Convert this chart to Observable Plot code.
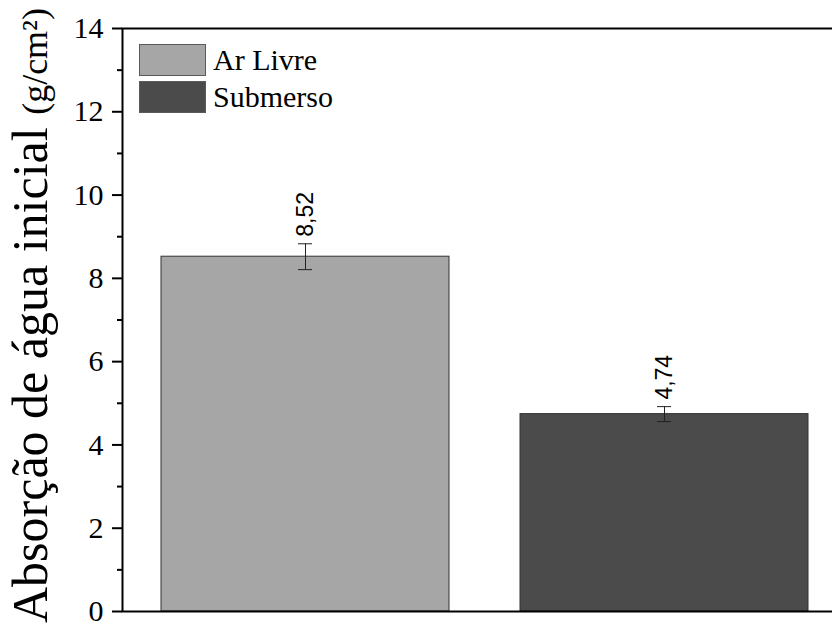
<!DOCTYPE html>
<html>
<head>
<meta charset="utf-8">
<script src="https://cdn.jsdelivr.net/npm/d3@7"></script>
<script src="https://cdn.jsdelivr.net/npm/@observablehq/plot@0.6"></script>
<style>
  html, body { margin: 0; padding: 0; background: #fff; }
  #wrap { position: relative; width: 832px; height: 625px; overflow: hidden; }
  #legend { position: absolute; left: 139px; top: 44px; font-family: "Liberation Serif", serif; font-size: 30px; color: #000; }
  .item { display: flex; align-items: center; height: 32px; margin-bottom: 5px; }
  .sw { width: 65px; height: 30px; border: 1px solid #5a5a5a; margin-right: 7px; }
</style>
</head>
<body>
<div id="wrap"><div id="legend"></div></div>
<script>
const categories = ["Ar Livre", "Submerso"];
const values = [8.52, 4.74];
const errors = [0.31, 0.18];
const colors = ["#a6a6a6", "#4b4b4b"];
const majorTicks = [0, 2, 4, 6, 8, 10, 12, 14];
const minorTicks = [1, 3, 5, 7, 9, 11, 13];

const data = categories.map((c, i) => ({
  cat: c, value: values[i], lo: values[i] - errors[i], hi: values[i] + errors[i],
  label: values[i].toFixed(2).replace(".", ",")
}));

const chart = Plot.plot({
  width: 832,
  height: 625,
  marginLeft: 122,
  marginRight: -14,
  marginTop: 28,
  marginBottom: 14,
  style: { fontFamily: "Liberation Serif, serif", fontSize: "30px", color: "#000", background: "#fff" },
  x: { domain: categories, range: [122, 846], paddingInner: 0.198, paddingOuter: 0.1058, axis: null },
  y: { domain: [0, 14], axis: null },
  color: { domain: categories, range: colors },
  marks: [
    Plot.barY(data, { x: "cat", y: "value", fill: "cat", stroke: "#333", strokeWidth: 1 }),
    Plot.ruleX(data, { x: "cat", y1: "lo", y2: "hi", stroke: "#222", strokeWidth: 1 }),
    Plot.tickY(data, { x: "cat", y: "lo", stroke: "#222", strokeWidth: 1, insetLeft: 137, insetRight: 137 }),
    Plot.tickY(data, { x: "cat", y: "hi", stroke: "#222", strokeWidth: 1, insetLeft: 137, insetRight: 137 }),
    Plot.text(data, { x: "cat", y: "hi", text: "label", rotate: -90, textAnchor: "start", dy: -7,
      fontSize: 23, fontFamily: "Liberation Sans, Arial, sans-serif", fill: "#000" }),
    Plot.axisY({ ticks: majorTicks, tickSize: 10, tickPadding: 9, strokeWidth: 2, label: null, fill: "#000" }),
    Plot.axisY({ ticks: minorTicks, tickSize: 5, strokeWidth: 2, text: null, label: null }),
    Plot.frame({ stroke: "#000", strokeWidth: 2 })
  ]
});

const svg = d3.select(chart);
const lab = svg.append("text")
  .attr("transform", "translate(47,623) rotate(-90)")
  .attr("text-anchor", "start")
  .attr("font-family", "Liberation Serif, serif")
  .attr("fill", "#000");
lab.append("tspan").attr("font-size", 50).text("Absorção de água inicial ");
lab.append("tspan").attr("font-size", 36).text("(g/cm²)");

document.getElementById("wrap").prepend(chart);

const legend = d3.select("#legend");
categories.forEach((c, i) => {
  const it = legend.append("div").attr("class", "item");
  it.append("div").attr("class", "sw").style("background", colors[i]);
  it.append("span").text(c);
});
</script>
</body>
</html>
